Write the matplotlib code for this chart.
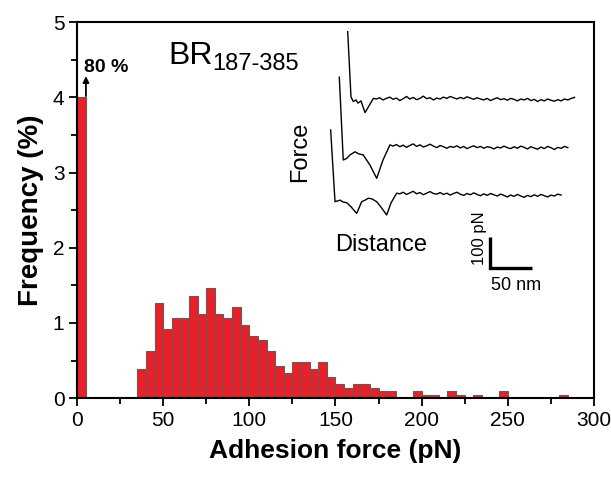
import numpy as np
import matplotlib
matplotlib.use("Agg")
import matplotlib.pyplot as plt
from matplotlib.ticker import MultipleLocator

plt.rcParams["font.family"] = ["Liberation Sans", "DejaVu Sans"]

# histogram: left edge of each 5 pN bin and frequency (%)
# first bin is really 80 %, drawn cut at 4 %
bin_left = [0, 35, 40, 45, 50, 55, 60, 65, 70, 75,
            80, 85, 90, 95, 100, 105, 110, 115, 120, 125,
            130, 135, 140, 145, 150, 155, 160, 165, 170, 175,
            180, 195, 200, 205, 215, 220, 230, 245, 280]
freq = [4.0, 0.39, 0.63, 1.26, 0.92, 1.06, 1.06, 1.36, 1.12, 1.46,
        1.12, 1.06, 1.21, 0.97, 0.82, 0.77, 0.625, 0.43, 0.33, 0.48,
        0.48, 0.39, 0.48, 0.28, 0.19, 0.14, 0.19, 0.19, 0.14, 0.09,
        0.09, 0.09, 0.045, 0.045, 0.09, 0.045, 0.045, 0.09, 0.045]
bin_width = 5

# force curves for the inset (distance nm, force pN)
t1_x = [33.0, 36.9, 39.6, 42.9, 45.2, 48.8, 53.6, 58.3, 63.5] + list(range(67, 304, 4))
t1_y = [849, 643, 628, 633, 623, 630, 593, 614, 638,
        636, 640, 633, 638, 642, 635, 639, 631, 637, 644,
        636, 641, 634, 638, 645, 637, 640, 633, 639, 636,
        642, 638, 644, 640, 636, 641, 637, 643, 639, 635,
        640, 636, 633, 638, 631, 636, 640, 634, 637, 632,
        638, 635, 630, 636, 633, 638, 631, 635, 628, 634,
        630, 636, 632, 629, 634, 630, 636, 633, 638, 641]

t2_x = [23.0, 27.7, 31.8, 35.7, 41.7, 46.4, 51.5, 59.5, 67.5, 75.0, 83.3] + list(range(87, 296, 4))
t2_y = [705, 443, 448, 459, 469, 462, 459, 427, 385, 443, 491,
        487, 492, 485, 490, 483, 489, 494, 486, 491, 484,
        488, 493, 487, 482, 489, 485, 480, 486, 483, 488,
        481, 486, 479, 484, 488, 482, 486, 480, 485, 483,
        478, 484, 481, 487, 482, 479, 485, 480, 487, 483,
        478, 485, 481, 477, 484, 479, 486, 482, 476, 483,
        480, 486, 482]

t3_x = [12.7, 17.9, 23.8, 27.4, 31.8, 36.9, 43.7, 49.6, 53.6, 57.5,
        61.9, 67.5, 72.6, 79.4, 84.5, 91.3] + list(range(95, 288, 4))
t3_y = [538, 311, 316, 310, 308, 295, 274, 311, 316, 322,
        320, 311, 294, 269, 307, 338,
        336, 341, 334, 339, 344, 336, 340, 333, 338, 343,
        337, 335, 340, 334, 338, 332, 337, 341, 335, 331,
        337, 333, 339, 334, 330, 336, 331, 337, 333, 329,
        335, 331, 326, 332, 328, 334, 329, 325, 331, 327,
        333, 328, 334, 330, 326, 332, 329, 335, 332]

# scale bar: 50 nm by 100 pN
bar_origin = (202, 100)
bar_nm = 50
bar_pn = 100

fig = plt.figure(figsize=(6.11, 4.82), dpi=100)
ax = fig.add_axes([0.126, 0.174, 0.846, 0.780])

ax.bar(bin_left, freq, width=bin_width, align="edge",
       facecolor="#E8202A", edgecolor="#6b5858", linewidth=0.8, zorder=2)

ax.set_xlim(0, 300)
ax.set_ylim(0, 5)
ax.xaxis.set_major_locator(MultipleLocator(50))
ax.xaxis.set_minor_locator(MultipleLocator(25))
ax.yaxis.set_major_locator(MultipleLocator(1))
ax.yaxis.set_minor_locator(MultipleLocator(0.5))
ax.tick_params(which="major", direction="out", length=6, width=1.3, labelsize=15, pad=3)
ax.tick_params(which="minor", direction="out", length=4, width=1.3)
for s in ax.spines.values():
    s.set_linewidth(1.5)

ax.set_xlabel("Adhesion force (pN)", fontsize=19, fontweight="bold", labelpad=7)
ax.set_ylabel("Frequency (%)", fontsize=20, fontweight="bold", labelpad=6)

# 80 % note with arrow
ax.annotate("", xy=(5.2, 4.32), xytext=(5.2, 3.98),
            arrowprops=dict(arrowstyle="-|>", color="black", lw=1.3, mutation_scale=9))
ax.text(4.3, 4.34, "80 %", fontsize=14, fontweight="bold", va="baseline", ha="left")

# sample name
ax.text(52.8, 4.45, "BR", fontsize=23, va="baseline", ha="left")
ax.text(78.5, 4.37, "187-385", fontsize=17, va="baseline", ha="left")

# inset with force curves
ins = fig.add_axes([0.5237, 0.3776, 0.4583, 0.5809])
ins.set_xlim(0, 333.3)
ins.set_ylim(0, 886)
ins.axis("off")
for tx, ty in [(t1_x, t1_y), (t2_x, t2_y), (t3_x, t3_y)]:
    ins.plot(tx, ty, color="black", lw=1.0)

x0, y0 = bar_origin
ins.plot([x0, x0, x0 + bar_nm], [y0 + bar_pn, y0, y0], color="black", lw=2.4,
         solid_joinstyle="miter", solid_capstyle="butt")
ins.text(-23.8, 468, "Force", fontsize=17, rotation=90, ha="center", va="center")
ins.text(72.6, 174, "Distance", fontsize=17, ha="center", va="center")
ins.text(190.0, 196, "100 pN", fontsize=12, rotation=90, ha="center", va="center")
ins.text(233, 45, "50 nm", fontsize=13, ha="center", va="center")

fig.savefig("out.png", dpi=100)
